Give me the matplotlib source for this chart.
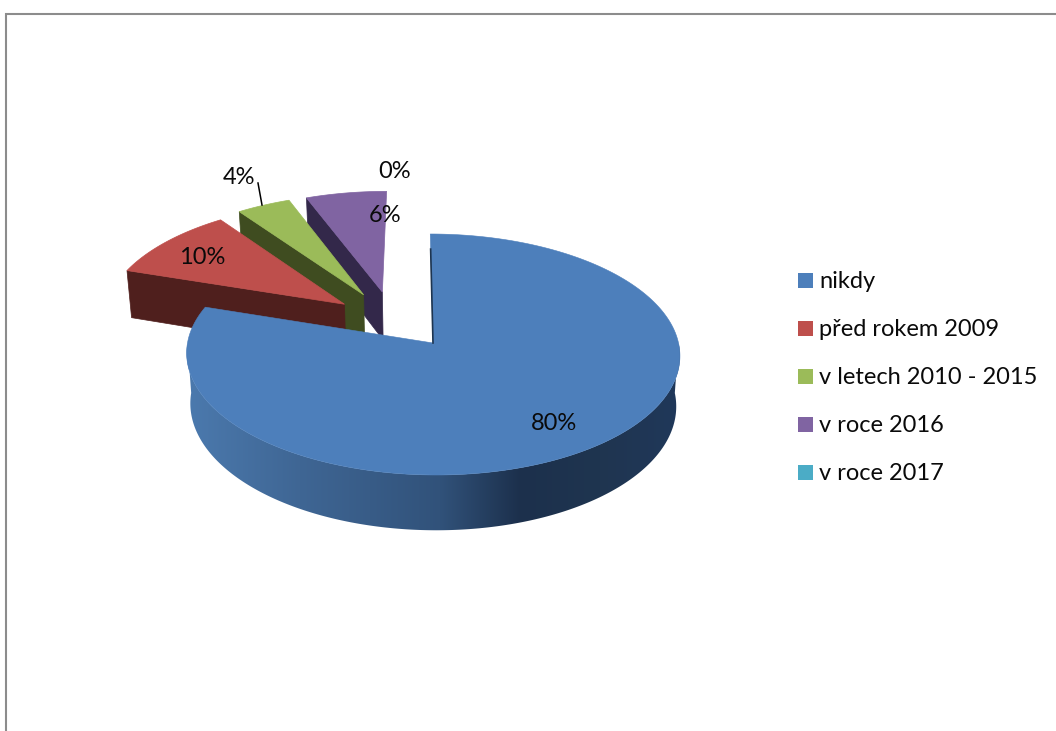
import numpy as np
import matplotlib
matplotlib.use("Agg")
import matplotlib.pyplot as plt
from matplotlib.colors import to_rgb
from matplotlib.patches import Rectangle, Polygon

# ---- data ----
categories = ["nikdy", "před rokem 2009", "v letech 2010 - 2015", "v roce 2016", "v roce 2017"]
values = [80, 10, 4, 6, 0]
value_labels = ["80%", "10%", "4%", "6%", "0%"]

# ---- style / layout ----
top_colors = ["#4D7FBB", "#BE4F4C", "#9BBB59", "#8064A2", "#4BACC6"]
wall_colors = ["#1E3550", "#4F1F1D", "#3F4C20", "#33284A", "#1E4A55"]
explode = [(0, 0), (-0.372, 0.335), (-0.294, 0.42), (-0.215, 0.445), (0, 0)]
skew = [-3, 0, 0, 0, 0]
CX, CY, R, B, C = 433.0, 343.0, 245.5, -119.4, 0.0954
DEPTH, SHRINK = 50.0, 0.985
label_xy = [(554, 423), (202, 258), (239, 178), (385, 216), (395, 172)]
FONT = "Lato"
FS_LABEL, FS_LEGEND = 17.0, 17.0
GRAD_X = [190, 300, 440, 520, 600, 680]
GRAD_C = ["#4B79AD", "#3F6694", "#31527A", "#1C304C", "#1F3550", "#20385A"]


def project(x, y, k=0.0):
    """Perspective projection of a point in the pie's disc plane to the canvas."""
    w = 1 + C * y
    return CX + (R * x + k * y) / w, CY + B * y / w, DEPTH / w


def top_outline(a0, a1, off, k):
    th = np.radians(np.linspace(a0, a1, max(int((a1 - a0) * 2), 2)))
    xs = np.r_[off[0], off[0] + np.sin(th), off[0]]
    ys = np.r_[off[1], off[1] + np.cos(th), off[1]]
    return project(xs, ys, k)


def lower(px, py, d):
    return CX + (px - CX) * SHRINK, py + d


fig = plt.figure(figsize=(10.56, 7.31), dpi=100, facecolor="white")
ax = fig.add_axes([0, 0, 1, 1])

# chart frame
ax.plot([6, 6, 1056], [731, 14, 14], color="#8C8C8C", lw=1.5, solid_joinstyle="miter", zorder=1)

edges = np.cumsum([0] + values) / sum(values) * 360.0

# exploded slices are painted back to front, the main slice last
for i in [3, 2, 1]:
    a0, a1 = edges[i], edges[i + 1]
    off = explode[i]
    px, py, d = top_outline(a0, a1, off, skew[i])
    # radial wall at the slice's starting edge
    qx = np.array([px[0], px[1]])
    qy = np.array([py[0], py[1]])
    lx, ly = lower(qx, qy, d[[0, 1]])
    ax.fill(np.r_[qx, lx[::-1]], np.r_[qy, ly[::-1]], color=wall_colors[i], lw=0.5, zorder=2 + (3 - i))
    ax.fill(px, py, color=top_colors[i], lw=0.5, zorder=2 + (3 - i))

# main slice: shaded rim (horizontal gradient clipped to the rim), then top face
a0, a1 = edges[0], edges[1]
th = np.radians(np.linspace(90, min(270, a1), 400))
rx, ry, rd = project(np.sin(th), np.cos(th), skew[0])
bx, by = lower(rx, ry, rd)
rim = Polygon(np.c_[np.r_[rx, bx[::-1]], np.r_[ry, by[::-1]]], closed=True,
              transform=ax.transData, facecolor="none", edgecolor="none")
ax.add_patch(rim)
grad_px = np.arange(150, 720)
grad_rgb = np.array([to_rgb(c) for c in GRAD_C])
grad = np.stack([np.interp(grad_px, GRAD_X, grad_rgb[:, n]) for n in range(3)], axis=-1)[None, :, :]
img = ax.imshow(grad, extent=(150, 720, 560, 330), aspect="auto", interpolation="bilinear", zorder=6)
img.set_clip_path(rim)
px, py, d = top_outline(a0, a1, explode[0], skew[0])
ax.fill(px, py, color=top_colors[0], lw=0.4, zorder=7)
# dark sliver of the inner wall along the 12 o'clock edge
sx, sy, _ = project(np.array([0.0, 0.0]), np.array([0.0, 0.85]), skew[0])
ax.plot(sx, sy, color="#1E3550", lw=1.2, zorder=8)

# data labels
for t, (x, y) in zip(value_labels, label_xy):
    ax.text(x, y, t, ha="center", va="center", family=FONT, fontsize=FS_LABEL, color="#0A0A0A", zorder=10)
# leader line of the 4% label
ax.plot([258, 262], [183, 205], color="black", lw=1.1, zorder=10)

# legend
for i, (name, col) in enumerate(zip(categories, top_colors)):
    yc = 280 + i * 48.1
    ax.add_patch(Rectangle((798, yc - 7.5), 15, 15, facecolor=col, edgecolor="none", zorder=10))
    ax.text(819, yc - 1, name, ha="left", va="center_baseline", family=FONT, fontsize=FS_LEGEND,
            color="#0A0A0A", zorder=10)

ax.set_xlim(0, 1056)
ax.set_ylim(731, 0)
ax.axis("off")
fig.savefig("out.png", dpi=100, facecolor="white")
